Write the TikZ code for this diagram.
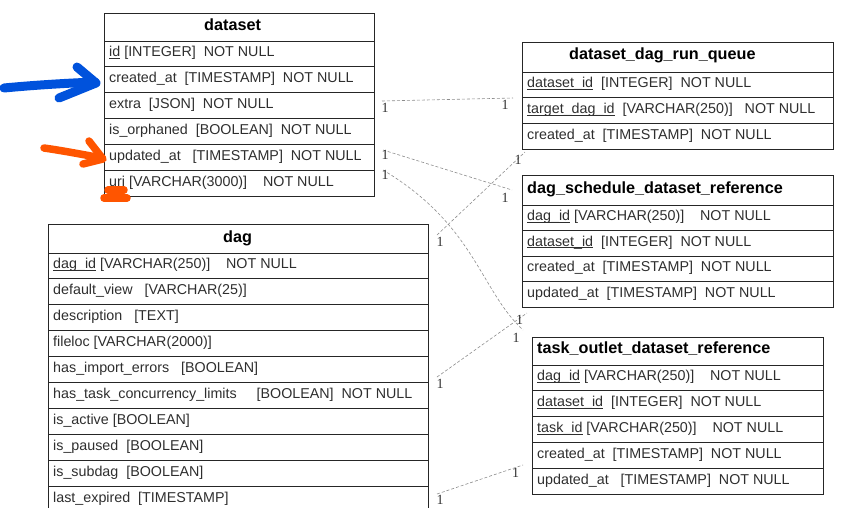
\documentclass[tikz,border=0pt]{standalone}
\usepackage{fontspec}
\setmainfont{Liberation Sans}
\newfontfamily\cardserif{Liberation Serif}
\definecolor{inkblue}{RGB}{0,82,220}
\definecolor{inkorange}{RGB}{255,85,0}
\newcommand\myul[1]{\setbox0\hbox{#1}\rlap{\rule[-1.8pt]{\wd0}{0.75pt}}\box0}
\newcommand\rowsz{\fontsize{14.3}{16}\selectfont}
\newcommand\hdrsz{\fontsize{16.2}{18}\selectfont\bfseries}
% #1 prefix, #2 left, #3 right, #4 first row top, #5 row height, #6 texts
\newcommand\ertrows[6]{%
  \foreach \t [count=\i from 0] in {#6} {%
    \pgfmathsetmacro\yy{#4+\i*#5}
    \draw[sep] (#2,\yy) -- (#3,\yy);
    \node[rowtxt] (#1-\i) at (#2+5,\yy+#5/2+3) {\t};
  }}
\begin{document}
\begin{tikzpicture}[x=1pt,y=-1pt,
  frame/.style={draw=black!85, line width=0.9pt, inner sep=0pt, outer sep=0pt, anchor=north west},
  sep/.style={draw=black!85, line width=0.9pt},
  rowtxt/.style={anchor=base west, inner sep=0pt, font=\rowsz, text=black!82},
  hdr/.style={anchor=base west, inner sep=0pt, font=\hdrsz, text=black},
  conn/.style={draw=black!45, line width=0.6pt, dash pattern=on 3pt off 2pt},
  card/.style={anchor=center, inner sep=0pt, font=\cardserif\fontsize{14}{14}\selectfont, text=black!80},
  blueink/.style={draw=inkblue, line width=9pt, line cap=round, line join=round},
  orangeink/.style={draw=inkorange, line width=7.5pt, line cap=round, line join=round},
]
\useasboundingbox (0,0) rectangle (844,507);
\clip (0,0) rectangle (844,507);

% ---------- dataset ----------
\node[frame, minimum width=270pt, minimum height=183pt] (dataset) at (104,13) {};
\node[hdr] (dataset-h) at (204,30) {dataset};
\ertrows{ds}{104}{374}{41}{25.83}{%
  \myul{id}~[INTEGER]~~NOT NULL,
  created\_at~~[TIMESTAMP]~~NOT NULL,
  extra~~[JSON]~~NOT NULL,
  is\_orphaned~~[BOOLEAN]~~NOT NULL,
  updated\_at~~~[TIMESTAMP]~~NOT NULL,
  \myul{uri}~[VARCHAR(3000)]~~~~NOT NULL}

% ---------- dataset_dag_run_queue ----------
\node[frame, minimum width=311pt, minimum height=107pt] (ddrq) at (522,42) {};
\node[hdr] (ddrq-h) at (569,59) {dataset\_dag\_run\_queue};
\ertrows{dq}{522}{833}{72}{25.67}{%
  \myul{dataset\_id}~~[INTEGER]~~NOT NULL,
  \myul{target\_dag\_id}~~[VARCHAR(250)]~~~NOT NULL,
  created\_at~~[TIMESTAMP]~~NOT NULL}

% ---------- dag_schedule_dataset_reference ----------
\node[frame, minimum width=311pt, minimum height=132pt] (dsdr) at (522,175) {};
\node[hdr] (dsdr-h) at (527,193.5) {dag\_schedule\_dataset\_reference};
\ertrows{ds2}{522}{833}{205}{25.5}{%
  \myul{dag\_id}~[VARCHAR(250)]~~~~NOT NULL,
  \myul{dataset\_id}~~[INTEGER]~~NOT NULL,
  created\_at~~[TIMESTAMP]~~NOT NULL,
  updated\_at~~[TIMESTAMP]~~NOT NULL}

% ---------- task_outlet_dataset_reference ----------
\node[frame, minimum width=291pt, minimum height=157pt] (todr) at (532,337) {};
\node[hdr] (todr-h) at (537,353.5) {task\_outlet\_dataset\_reference};
\ertrows{to}{532}{823}{365}{25.8}{%
  \myul{dag\_id}~[VARCHAR(250)]~~~~NOT NULL,
  \myul{dataset\_id}~~[INTEGER]~~NOT NULL,
  \myul{task\_id}~[VARCHAR(250)]~~~~NOT NULL,
  created\_at~~[TIMESTAMP]~~NOT NULL,
  updated\_at~~~[TIMESTAMP]~~NOT NULL}

% ---------- dag ----------
\node[frame, minimum width=380pt, minimum height=290pt] (dag) at (48,224) {};
\node[hdr] (dag-h) at (223,242.3) {dag};
\ertrows{dg}{48}{428}{253}{25.9}{%
  \myul{dag\_id}~[VARCHAR(250)]~~~~NOT NULL,
  default\_view~~~[VARCHAR(25)],
  description~~~[TEXT],
  fileloc~[VARCHAR(2000)],
  has\_import\_errors~~~[BOOLEAN],
  has\_task\_concurrency\_limits~~~~~[BOOLEAN]~~NOT NULL,
  is\_active~[BOOLEAN],
  is\_paused~~[BOOLEAN],
  is\_subdag~~[BOOLEAN],
  last\_expired~~[TIMESTAMP]}

% ---------- connectors ----------
\coordinate (c1a) at (382,101);   \coordinate (c1b) at (513,98);
\coordinate (c2a) at (383,150);   \coordinate (c2b) at (512,190);
\coordinate (c3a) at (383,170);   \coordinate (c3b) at (523,330);
\coordinate (c4a) at (437,235);   \coordinate (c4b) at (525,152);
\coordinate (c5a) at (437,377);   \coordinate (c5b) at (527,313);
\coordinate (c6a) at (437,494);   \coordinate (c6b) at (523,465);
\draw[conn] (c1a) -- (c1b);
\draw[conn] (c2a) -- (c2b);
\draw[conn] (c3a) .. controls (475,225) and (480,290) .. (c3b);
\draw[conn] (c4a) -- (c4b);
\draw[conn] (c5a) -- (c5b);
\draw[conn] (c6a) -- (c6b);

\node[card] (k1a) at (385,107.5) {1};
\node[card] (k1b) at (505,104.5) {1};
\node[card] (k2a) at (385,155) {1};
\node[card] (k2b) at (505,197.5) {1};
\node[card] (k3a) at (385,174.5) {1};
\node[card] (k3b) at (516,338) {1};
\node[card] (k4a) at (440,242) {1};
\node[card] (k4b) at (518,159.5) {1};
\node[card] (k5a) at (440,384) {1};
\node[card] (k5b) at (519.5,319.5) {1};
\node[card] (k6a) at (440,499.5) {1};
\node[card] (k6b) at (515.5,472.5) {1};

% ---------- hand-drawn marks ----------
\draw[blueink] (4,88) .. controls (35,85) and (70,83) .. (95,82);
\draw[blueink] (77,67) -- (96,83) -- (59,98);
\draw[orangeink] (44,148) .. controls (65,151) and (85,155) .. (102,158);
\draw[orangeink] (89,141) -- (103,159) -- (83,164);
\draw[orangeink] (108,190) -- (124,190);
\draw[orangeink] (104,198) -- (127,198);
\end{tikzpicture}
\end{document}
